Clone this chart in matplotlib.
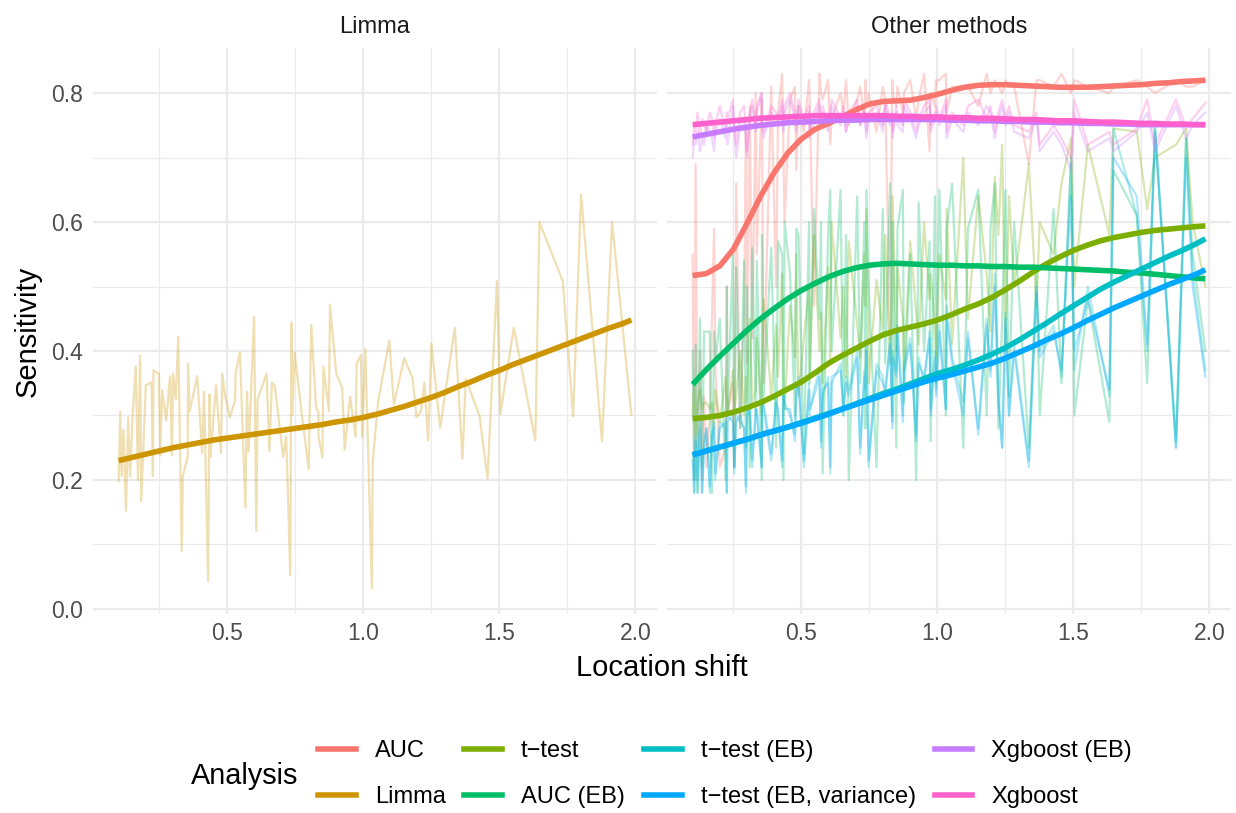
import matplotlib
matplotlib.use("Agg")
import matplotlib.pyplot as plt
from matplotlib.lines import Line2D
from matplotlib.ticker import MultipleLocator

plt.rcParams['font.family'] = ['Liberation Sans', 'DejaVu Sans']

# ---------------- data ----------------
methods = ["AUC", "Limma", "t\u2212test", "AUC (EB)", "t\u2212test (EB)",
           "t\u2212test (EB, variance)", "Xgboost (EB)", "Xgboost"]
colors = ["#F8766D", "#CD9600", "#7CAE00", "#00BE67", "#00BFC4",
          "#00A9FF", "#C77CFF", "#FF61CC"]

shift = [0.100, 0.106, 0.111, 0.118, 0.127, 0.135, 0.142, 0.151, 0.163, 0.171,
         0.179, 0.183, 0.200, 0.221, 0.226, 0.228, 0.248, 0.253, 0.260, 0.275,
         0.289, 0.296, 0.300, 0.310, 0.319, 0.332, 0.336, 0.354, 0.355, 0.361,
         0.389, 0.407, 0.414, 0.429, 0.434, 0.438, 0.458, 0.476, 0.481, 0.489,
         0.509, 0.528, 0.530, 0.546, 0.566, 0.572, 0.578, 0.598, 0.606, 0.611,
         0.644, 0.654, 0.664, 0.674, 0.705, 0.716, 0.731, 0.735, 0.739, 0.747,
         0.776, 0.799, 0.808, 0.826, 0.834, 0.835, 0.849, 0.853, 0.873, 0.877,
         0.900, 0.922, 0.931, 0.951, 0.971, 0.975, 0.991, 0.995, 1.007, 1.031,
         1.034, 1.054, 1.095, 1.112, 1.150, 1.181, 1.195, 1.211, 1.224, 1.238,
         1.250, 1.263, 1.282, 1.336, 1.364, 1.376, 1.427, 1.456, 1.491, 1.503,
         1.553, 1.632, 1.647, 1.733, 1.771, 1.800, 1.877, 1.914, 1.938, 1.985]

limma_raw = [0.198, 0.306, 0.206, 0.278, 0.152, 0.297, 0.206, 0.297, 0.376, 0.200,
             0.393, 0.167, 0.347, 0.351, 0.206, 0.370, 0.365, 0.238, 0.339, 0.292,
             0.361, 0.238, 0.365, 0.325, 0.422, 0.090, 0.206, 0.236, 0.380, 0.306,
             0.361, 0.242, 0.337, 0.043, 0.333, 0.236, 0.347, 0.242, 0.365, 0.336,
             0.297, 0.323, 0.365, 0.398, 0.157, 0.337, 0.244, 0.453, 0.121, 0.325,
             0.365, 0.245, 0.351, 0.346, 0.236, 0.267, 0.052, 0.444, 0.301, 0.398,
             0.292, 0.217, 0.440, 0.311, 0.307, 0.267, 0.235, 0.376, 0.307, 0.472,
             0.365, 0.343, 0.247, 0.329, 0.267, 0.380, 0.394, 0.267, 0.403, 0.032,
             0.228, 0.322, 0.416, 0.317, 0.389, 0.357, 0.297, 0.306, 0.351, 0.261,
             0.412, 0.358, 0.281, 0.436, 0.233, 0.357, 0.299, 0.202, 0.509, 0.302,
             0.436, 0.261, 0.600, 0.508, 0.299, 0.643, 0.260, 0.600, 0.499, 0.301]

auc_raw = [0.55, 0.20, 0.69, 0.25, 0.40, 0.20, 0.33, 0.22, 0.30, 0.45, 0.59, 0.38, 0.22,
           0.25, 0.50, 0.30, 0.35, 0.22, 0.66, 0.28, 0.45, 0.75, 0.38,
           0.78, 0.42, 0.80, 0.55, 0.79, 0.76, 0.35, 0.81, 0.50, 0.77, 0.83, 0.70, 0.60,
           0.79, 0.81, 0.68, 0.78, 0.74, 0.82, 0.80, 0.47, 0.83, 0.80, 0.79, 0.82, 0.72, 0.76,
           0.80, 0.77, 0.82, 0.75, 0.79, 0.81, 0.76, 0.82, 0.78, 0.80, 0.74, 0.81, 0.79, 0.42,
           0.82, 0.80, 0.78, 0.81, 0.77, 0.80, 0.82, 0.76, 0.79, 0.83, 0.71, 0.80, 0.78, 0.82,
           0.82, 0.83, 0.77, 0.81, 0.81, 0.81, 0.78, 0.83, 0.80, 0.82, 0.81, 0.80, 0.82, 0.81,
           0.81, 0.69, 0.82, 0.82, 0.81, 0.83,
           0.80, 0.82, 0.81, 0.80, 0.81, 0.82, 0.81, 0.80, 0.82, 0.81, 0.81, 0.82]

ttest_raw = [0.30, 0.35, 0.27, 0.32, 0.34, 0.31, 0.32, 0.32, 0.31, 0.32, 0.28, 0.34, 0.29,
             0.36, 0.32, 0.30, 0.37, 0.31, 0.33, 0.40, 0.30, 0.36, 0.32,
             0.45, 0.32, 0.34, 0.42, 0.30, 0.38, 0.48, 0.33, 0.44, 0.36, 0.52, 0.35, 0.31,
             0.47, 0.39, 0.55, 0.33, 0.42, 0.50, 0.36, 0.58, 0.40, 0.46, 0.35, 0.53, 0.38, 0.60,
             0.42, 0.50, 0.36, 0.57, 0.44, 0.39, 0.55, 0.47, 0.62, 0.35, 0.51, 0.43, 0.58, 0.38,
             0.49, 0.64, 0.40, 0.53, 0.45, 0.37, 0.57, 0.46, 0.41, 0.60, 0.48, 0.52, 0.44, 0.39,
             0.55, 0.48, 0.62, 0.41, 0.70, 0.45, 0.64, 0.52, 0.43, 0.67, 0.58, 0.72, 0.40, 0.64,
             0.50, 0.69, 0.47, 0.60, 0.55, 0.66,
             0.73, 0.50, 0.72, 0.58, 0.745, 0.74, 0.62, 0.70, 0.72, 0.745, 0.60, 0.50]

auc_eb_raw = [0.40, 0.20, 0.41, 0.18, 0.45, 0.22, 0.43, 0.43, 0.43, 0.18, 0.43, 0.38, 0.45,
              0.20, 0.50, 0.30, 0.55, 0.22, 0.53, 0.28, 0.54, 0.25, 0.50,
              0.22, 0.56, 0.30, 0.54, 0.20, 0.58, 0.33, 0.56, 0.25, 0.57, 0.55, 0.20, 0.60,
              0.52, 0.30, 0.59, 0.58, 0.24, 0.60, 0.35, 0.62, 0.45, 0.60, 0.21, 0.58, 0.65, 0.40,
              0.65, 0.30, 0.58, 0.20, 0.64, 0.35, 0.60, 0.28, 0.65, 0.50, 0.22, 0.62, 0.38, 0.66,
              0.30, 0.60, 0.25, 0.59, 0.65, 0.32, 0.55, 0.20, 0.63, 0.40, 0.57, 0.26, 0.64, 0.35,
              0.65, 0.30, 0.59, 0.66, 0.25, 0.59, 0.65, 0.30, 0.59, 0.66, 0.28, 0.45, 0.65, 0.33,
              0.60, 0.25, 0.52, 0.30, 0.62, 0.35,
              0.70, 0.30, 0.48, 0.29, 0.68, 0.61, 0.35, 0.746, 0.26, 0.73, 0.55, 0.40]

ttest_eb_raw = [0.24, 0.18, 0.27, 0.18, 0.30, 0.18, 0.26, 0.28, 0.18, 0.27, 0.28, 0.20, 0.29,
                0.28, 0.18, 0.29, 0.30, 0.21, 0.29, 0.30, 0.28, 0.18, 0.31,
                0.30, 0.22, 0.31, 0.30, 0.22, 0.32, 0.31, 0.23, 0.33, 0.30, 0.22, 0.34, 0.32,
                0.30, 0.27, 0.33, 0.36, 0.22, 0.35, 0.30, 0.34, 0.37, 0.26, 0.33, 0.36, 0.21, 0.35,
                0.38, 0.30, 0.36, 0.34, 0.40, 0.24, 0.37, 0.33, 0.41, 0.22, 0.38, 0.36, 0.33, 0.42,
                0.29, 0.40, 0.37, 0.44, 0.30, 0.38, 0.42, 0.27, 0.39, 0.35, 0.43, 0.31, 0.40, 0.34,
                0.44, 0.31, 0.47, 0.39, 0.32, 0.42, 0.28, 0.45, 0.37, 0.52, 0.33, 0.25, 0.46, 0.30,
                0.41, 0.23, 0.50, 0.40, 0.44, 0.36,
                0.69, 0.37, 0.50, 0.33, 0.745, 0.61, 0.40, 0.745, 0.25, 0.73, 0.52, 0.37]

ttest_ebv_raw = [0.23, 0.18, 0.26, 0.20, 0.28, 0.18, 0.25, 0.28, 0.19, 0.27, 0.29, 0.21, 0.28,
                 0.29, 0.18, 0.30, 0.29, 0.22, 0.30, 0.29, 0.28, 0.19, 0.30,
                 0.31, 0.23, 0.30, 0.31, 0.22, 0.31, 0.32, 0.24, 0.32, 0.31, 0.23, 0.33, 0.31,
                 0.31, 0.26, 0.34, 0.35, 0.23, 0.34, 0.31, 0.33, 0.36, 0.25, 0.34, 0.35, 0.22, 0.36,
                 0.37, 0.31, 0.35, 0.33, 0.39, 0.25, 0.36, 0.34, 0.40, 0.23, 0.37, 0.35, 0.34, 0.41,
                 0.28, 0.39, 0.36, 0.43, 0.29, 0.37, 0.41, 0.26, 0.38, 0.36, 0.42, 0.30, 0.39, 0.33,
                 0.43, 0.31, 0.45, 0.38, 0.30, 0.43, 0.27, 0.44, 0.36, 0.50, 0.32, 0.25, 0.45, 0.30,
                 0.40, 0.22, 0.49, 0.39, 0.43, 0.37,
                 0.64, 0.40, 0.48, 0.34, 0.70, 0.64, 0.41, 0.74, 0.25, 0.70, 0.50, 0.36]

xgb_eb_raw = [0.70, 0.73, 0.72, 0.74, 0.71, 0.73, 0.72, 0.75, 0.74, 0.73, 0.71, 0.74, 0.76,
              0.73, 0.75, 0.72, 0.78, 0.74, 0.70, 0.75, 0.76, 0.72, 0.70,
              0.76, 0.78, 0.74, 0.77, 0.80, 0.75, 0.73, 0.77, 0.76, 0.75, 0.78, 0.74, 0.77,
              0.79, 0.76, 0.74, 0.78, 0.75, 0.77, 0.73, 0.76, 0.78, 0.75, 0.77, 0.74, 0.76, 0.78,
              0.75, 0.77, 0.74, 0.76, 0.78, 0.75, 0.77, 0.75, 0.73, 0.76, 0.77, 0.74, 0.78, 0.75,
              0.76, 0.73, 0.77, 0.75, 0.74, 0.78, 0.76, 0.73, 0.75, 0.77, 0.78, 0.74, 0.76, 0.77,
              0.75, 0.78, 0.73, 0.76, 0.74, 0.77, 0.75, 0.78, 0.77, 0.73, 0.76, 0.78, 0.75, 0.77,
              0.74, 0.73, 0.76, 0.71, 0.74, 0.72,
              0.68, 0.77, 0.71, 0.73, 0.71, 0.74, 0.77, 0.71, 0.78, 0.73, 0.75, 0.77]

xgb_raw = [0.72, 0.75, 0.74, 0.77, 0.73, 0.76, 0.75, 0.74, 0.77, 0.76, 0.73, 0.75, 0.78,
           0.74, 0.77, 0.76, 0.79, 0.75, 0.72, 0.77, 0.78, 0.74, 0.71,
           0.77, 0.79, 0.75, 0.78, 0.80, 0.76, 0.74, 0.78, 0.77, 0.76, 0.79, 0.75, 0.78,
           0.80, 0.77, 0.75, 0.79, 0.76, 0.78, 0.74, 0.77, 0.79, 0.76, 0.78, 0.75, 0.77, 0.79,
           0.76, 0.78, 0.74, 0.77, 0.79, 0.75, 0.78, 0.76, 0.74, 0.77, 0.78, 0.75, 0.79, 0.76,
           0.77, 0.74, 0.78, 0.76, 0.75, 0.79, 0.77, 0.74, 0.76, 0.78, 0.79, 0.75, 0.77, 0.78,
           0.76, 0.79, 0.74, 0.77, 0.75, 0.78, 0.79, 0.76, 0.78, 0.74, 0.77, 0.79, 0.76, 0.78,
           0.75, 0.74, 0.77, 0.72, 0.75, 0.73,
           0.70, 0.79, 0.72, 0.74, 0.72, 0.745, 0.79, 0.72, 0.79, 0.745, 0.76, 0.785]

# smoothed trend
smooth_x = [0.10, 0.15, 0.20, 0.25, 0.30, 0.35, 0.40, 0.45, 0.50, 0.55,
            0.60, 0.65, 0.70, 0.75, 0.80, 0.85, 0.90, 0.95, 1.00, 1.05,
            1.10, 1.15, 1.20, 1.25, 1.30, 1.35, 1.40, 1.45, 1.50, 1.55,
            1.60, 1.65, 1.70, 1.75, 1.80, 1.85, 1.90, 1.95, 1.985]
limma_smooth = [0.230, 0.235, 0.240, 0.245, 0.250, 0.254, 0.258, 0.262, 0.265, 0.268,
                0.271, 0.274, 0.277, 0.280, 0.283, 0.286, 0.290, 0.293, 0.297, 0.302,
                0.308, 0.314, 0.321, 0.328, 0.336, 0.345, 0.353, 0.362, 0.370, 0.379,
                0.387, 0.395, 0.403, 0.411, 0.419, 0.427, 0.435, 0.442, 0.448]
auc_smooth = [0.517, 0.520, 0.532, 0.558, 0.598, 0.640, 0.677, 0.707, 0.729, 0.744,
              0.753, 0.763, 0.774, 0.783, 0.787, 0.788, 0.789, 0.793, 0.798, 0.804,
              0.809, 0.812, 0.813, 0.813, 0.812, 0.811, 0.810, 0.809, 0.809, 0.809,
              0.810, 0.811, 0.812, 0.813, 0.815, 0.816, 0.818, 0.819, 0.820]
ttest_smooth = [0.295, 0.297, 0.300, 0.305, 0.312, 0.320, 0.330, 0.341, 0.352, 0.366,
                0.381, 0.393, 0.404, 0.415, 0.425, 0.432, 0.437, 0.442, 0.448, 0.456,
                0.465, 0.473, 0.483, 0.495, 0.508, 0.522, 0.535, 0.546, 0.556, 0.564,
                0.571, 0.576, 0.580, 0.584, 0.587, 0.589, 0.591, 0.593, 0.594]
auc_eb_smooth = [0.348, 0.371, 0.392, 0.412, 0.432, 0.450, 0.466, 0.481, 0.494, 0.505,
                 0.515, 0.523, 0.529, 0.533, 0.535, 0.536, 0.535, 0.534, 0.533, 0.533,
                 0.532, 0.532, 0.531, 0.531, 0.530, 0.530, 0.529, 0.528, 0.527, 0.526,
                 0.525, 0.524, 0.522, 0.521, 0.519, 0.517, 0.515, 0.513, 0.512]
ttest_eb_smooth = [0.239, 0.245, 0.251, 0.257, 0.263, 0.270, 0.276, 0.282, 0.289, 0.296,
                   0.303, 0.310, 0.318, 0.326, 0.334, 0.341, 0.349, 0.357, 0.365, 0.371,
                   0.378, 0.386, 0.395, 0.405, 0.417, 0.430, 0.443, 0.457, 0.470, 0.483,
                   0.496, 0.507, 0.517, 0.527, 0.537, 0.547, 0.556, 0.566, 0.574]
ttest_ebv_smooth = [0.239, 0.245, 0.251, 0.257, 0.263, 0.270, 0.276, 0.282, 0.288, 0.295,
                    0.302, 0.310, 0.317, 0.324, 0.331, 0.338, 0.345, 0.352, 0.358, 0.363,
                    0.369, 0.375, 0.381, 0.389, 0.398, 0.407, 0.417, 0.426, 0.436, 0.447,
                    0.457, 0.467, 0.476, 0.485, 0.494, 0.503, 0.511, 0.519, 0.526]
xgb_eb_smooth = [0.732, 0.736, 0.740, 0.744, 0.747, 0.750, 0.752, 0.754, 0.755, 0.756,
                 0.757, 0.758, 0.758, 0.759, 0.759, 0.759, 0.759, 0.759, 0.759, 0.758,
                 0.758, 0.757, 0.757, 0.756, 0.756, 0.755, 0.755, 0.754, 0.754, 0.753,
                 0.753, 0.752, 0.752, 0.751, 0.751, 0.751, 0.751, 0.751, 0.751]
xgb_smooth = [0.751, 0.753, 0.755, 0.757, 0.759, 0.761, 0.762, 0.763, 0.764, 0.765,
              0.765, 0.765, 0.765, 0.765, 0.765, 0.764, 0.764, 0.763, 0.763, 0.762,
              0.762, 0.761, 0.761, 0.760, 0.759, 0.759, 0.758, 0.757, 0.757, 0.756,
              0.755, 0.755, 0.754, 0.753, 0.753, 0.752, 0.752, 0.751, 0.751]

raw = [auc_raw, limma_raw, ttest_raw, auc_eb_raw, ttest_eb_raw, ttest_ebv_raw, xgb_eb_raw, xgb_raw]
smooth = [auc_smooth, limma_smooth, ttest_smooth, auc_eb_smooth, ttest_eb_smooth,
          ttest_ebv_smooth, xgb_eb_smooth, xgb_smooth]

# ---------------- figure ----------------
W, H = 1236, 813
fig = plt.figure(figsize=(W / 100, H / 100), dpi=100)

def px_axes(x0, x1, y0, y1):
    return fig.add_axes([x0 / W, 1 - y1 / H, (x1 - x0) / W, (y1 - y0) / H])

ax_l = px_axes(93, 657, 48, 614)
ax_r = px_axes(667, 1231, 48, 614)

xmin, xmax = min(shift), max(shift)
xpad = (xmax - xmin) * 0.05
allv = limma_raw + auc_raw
ymin, ymax = min(allv), max(allv)
ypad = (ymax - ymin) * 0.05

grid_c = "#EBEBEB"
tick_c = "#4D4D4D"
for ax in (ax_l, ax_r):
    ax.set_xlim(xmin - xpad, xmax + xpad)
    ax.set_ylim(ymin - ypad, ymax + ypad)
    ax.xaxis.set_major_locator(MultipleLocator(0.5))
    ax.xaxis.set_minor_locator(MultipleLocator(0.25))
    ax.yaxis.set_major_locator(MultipleLocator(0.2))
    ax.yaxis.set_minor_locator(MultipleLocator(0.1))
    ax.grid(which="major", color=grid_c, lw=1.6, zorder=0)
    ax.grid(which="minor", color=grid_c, lw=0.9, zorder=0)
    ax.set_axisbelow(True)
    for s in ax.spines.values():
        s.set_visible(False)
    ax.tick_params(which="both", length=0, colors=tick_c, labelsize=16.5)
    ax.tick_params(axis="x", pad=6)
    ax.tick_params(axis="y", pad=7)
    ax.set_xticks([0.5, 1.0, 1.5, 2.0])
    ax.set_xticklabels(["0.5", "1.0", "1.5", "2.0"])

ax_l.set_yticks([0.0, 0.2, 0.4, 0.6, 0.8])
ax_l.set_yticklabels(["0.0", "0.2", "0.4", "0.6", "0.8"])
ax_r.set_yticks([0.0, 0.2, 0.4, 0.6, 0.8])
ax_r.tick_params(axis="y", labelleft=False)

raw_lw = 1.6
sm_lw = 4.0
# raw lines
for i, (m, c) in enumerate(zip(methods, colors)):
    ax = ax_l if m == "Limma" else ax_r
    ax.plot(shift, raw[i], color=c, alpha=0.3, lw=raw_lw, zorder=2 + i * 0.01)
# smooth lines
for i, (m, c) in enumerate(zip(methods, colors)):
    ax = ax_l if m == "Limma" else ax_r
    ax.plot(smooth_x, smooth[i], color=c, lw=sm_lw, zorder=5 + i * 0.01,
            solid_capstyle="butt")

# strip labels
fig.text((93 + 657) / 2 / W, 1 - 27 / H, "Limma", ha="center", va="center",
         fontsize=17, color="#1A1A1A")
fig.text((667 + 1231) / 2 / W, 1 - 27 / H, "Other methods", ha="center", va="center",
         fontsize=17, color="#1A1A1A")

# axis titles
fig.text((93 + 1231) / 2 / W, 1 - 668 / H, "Location shift", ha="center", va="center",
         fontsize=21, color="black")
fig.text(28 / W, 1 - 331 / H, "Sensitivity", ha="center", va="center", rotation=90,
         fontsize=21, color="black")

# legend
handles = [Line2D([0], [0], color=c, lw=sm_lw) for c in colors]
fig.text(191 / W, 1 - 776 / H, "Analysis", ha="left", va="center", fontsize=20.8,
         color="black")
fig.legend(handles, methods, ncol=4, loc="center left",
           bbox_to_anchor=(318 / W, 1 - 774 / H), frameon=False, fontsize=17,
           handlelength=1.6, handletextpad=0.8, columnspacing=0.8, labelspacing=1.0,
           borderpad=0, borderaxespad=0)

fig.savefig("out.png", dpi=100, facecolor="white")
